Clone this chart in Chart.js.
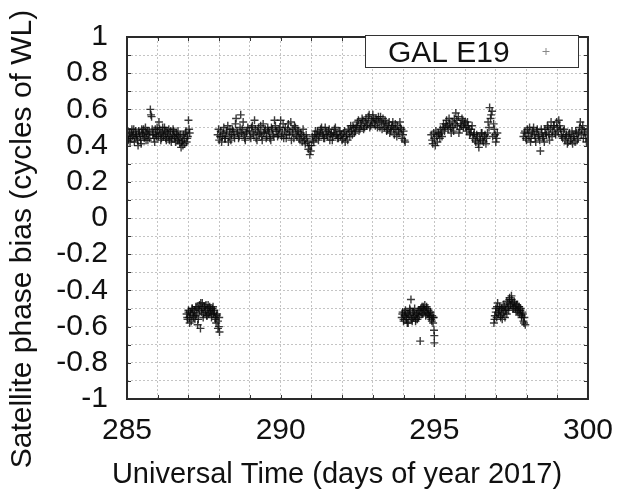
<!DOCTYPE html>
<html>
<head>
<meta charset="utf-8">
<script src="https://cdn.jsdelivr.net/npm/chart.js@4.4.1/dist/chart.umd.min.js"></script>
<style>
  body { margin: 0; background: #fff; }
  #wrap { width: 627px; height: 498px; }
</style>
</head>
<body>
<div id="wrap"><canvas id="biasChart" width="627" height="498"></canvas></div>
<script>
// GAL E19 wide-lane satellite phase bias

const arc1Day = [285.00,285.04,285.08,285.12,285.16,285.20,285.24,285.28,285.32,285.36,285.40,285.44,285.48,285.52,285.56,285.60,285.64,285.68,285.72,285.76,285.80,285.84,285.88,285.92,285.96,286.00,286.04,286.08,286.12,286.16,286.20,286.24,286.28,286.32,286.36,286.40,286.44,286.48,286.52,286.56,286.60,286.64,286.68,286.72,286.76,286.80,286.84,286.88,286.92,286.96,287.00,287.04];
const arc1Bias = [0.45,0.43,0.47,0.44,0.49,0.46,0.42,0.48,0.45,0.40,0.47,0.43,0.49,0.46,0.44,0.50,0.47,0.43,0.48,0.60,0.56,0.46,0.44,0.49,0.45,0.48,0.53,0.47,0.44,0.50,0.46,0.48,0.43,0.47,0.49,0.45,0.42,0.46,0.48,0.44,0.47,0.43,0.45,0.41,0.39,0.43,0.46,0.41,0.48,0.44,0.54,0.47];
const arc1bDay = [285.02,285.06,285.10,285.14,285.18,285.22,285.26,285.30,285.34,285.38,285.42,285.46,285.50,285.54,285.58,285.62,285.66,285.70,285.74,285.78,285.82,285.86,285.90,285.94,285.98,286.02,286.06,286.10,286.14,286.18,286.22,286.26,286.30,286.34,286.38,286.42,286.46,286.50,286.54,286.58,286.62,286.66,286.70,286.74,286.78,286.82,286.86,286.90,286.94,286.98,287.02];
const arc1bBias = [0.48,0.44,0.42,0.47,0.45,0.49,0.44,0.46,0.43,0.48,0.45,0.41,0.47,0.49,0.45,0.43,0.48,0.46,0.44,0.57,0.49,0.47,0.42,0.46,0.50,0.45,0.49,0.43,0.47,0.45,0.50,0.44,0.48,0.45,0.43,0.48,0.44,0.49,0.45,0.42,0.46,0.48,0.43,0.46,0.42,0.40,0.44,0.47,0.42,0.45,0.49];

const arc2Day = [287.95,288.00,288.05,288.10,288.15,288.20,288.25,288.30,288.35,288.40,288.45,288.50,288.55,288.60,288.65,288.70,288.75,288.80,288.85,288.90,
  289.00,289.05,289.10,289.15,289.20,289.25,289.30,289.35,289.40,289.45,289.50,289.55,289.60,289.65,289.70,289.75,289.80,289.85,289.90,289.95,
  290.00,290.05,290.10,290.15,290.20,290.25,290.30,290.35,290.40,290.45,290.50,290.55,290.60,290.65,290.70,290.75,290.80,290.85,290.90,290.95,
  291.00,291.05,291.10,291.15,291.20,291.25,291.30,291.35,291.40,291.45,291.50,291.55,291.60,291.65,291.70,291.75,291.80,291.85,291.90,291.95,
  292.00,292.05,292.10,292.15,292.20,292.25,292.30,292.35,292.40,292.45,292.50,292.55,292.60,292.65,292.70,292.75,292.80,292.85,292.90,292.95,
  293.00,293.05,293.10,293.15,293.20,293.25,293.30,293.35,293.40,293.45,293.50,293.55,293.60,293.65,293.70,293.75,293.80,293.85,293.90,293.95,
  294.00,294.05];
const arc2Bias = [0.46,0.43,0.48,0.45,0.50,0.44,0.47,0.42,0.49,0.46,0.48,0.44,0.55,0.47,0.45,0.57,0.49,0.46,0.43,0.48,
  0.45,0.50,0.47,0.54,0.44,0.48,0.46,0.51,0.43,0.47,0.49,0.45,0.48,0.44,0.50,0.46,0.54,0.48,0.45,0.49,
  0.54,0.47,0.44,0.50,0.46,0.52,0.48,0.43,0.49,0.51,0.46,0.48,0.44,0.47,0.42,0.45,0.41,0.44,0.38,0.35,
  0.40,0.43,0.46,0.44,0.48,0.45,0.49,0.47,0.44,0.50,0.46,0.48,0.43,0.47,0.45,0.49,0.46,0.44,0.48,0.45,
  0.43,0.47,0.42,0.46,0.49,0.45,0.48,0.51,0.47,0.50,0.53,0.48,0.52,0.55,0.49,0.53,0.51,0.56,0.50,0.54,
  0.57,0.52,0.55,0.50,0.53,0.56,0.49,0.52,0.54,0.48,0.51,0.47,0.50,0.53,0.46,0.49,0.51,0.47,0.50,0.44,
  0.48,0.42];
const arc2bDay = [287.98,288.03,288.08,288.13,288.18,288.23,288.28,288.33,288.38,288.43,288.48,288.53,288.58,288.63,288.68,288.73,288.78,288.83,288.88,288.93,
  288.98,289.03,289.08,289.13,289.18,289.23,289.28,289.33,289.38,289.43,289.48,289.53,289.58,289.63,289.68,289.73,289.78,289.83,289.88,289.93,
  289.98,290.03,290.08,290.13,290.18,290.23,290.28,290.33,290.38,290.43,290.48,290.53,290.58,290.63,290.68,290.73,290.78,290.83,290.88,290.93,
  290.98,291.03,291.08,291.13,291.18,291.23,291.28,291.33,291.38,291.43,291.48,291.53,291.58,291.63,291.68,291.73,291.78,291.83,291.88,291.93,
  291.98,292.03,292.08,292.13,292.18,292.23,292.28,292.33,292.38,292.43,292.48,292.53,292.58,292.63,292.68,292.73,292.78,292.83,292.88,292.93,
  292.98,293.03,293.08,293.13,293.18,293.23,293.28,293.33,293.38,293.43,293.48,293.53,293.58,293.63,293.68,293.73,293.78,293.83,293.88,293.93,
  293.98,294.03];
const arc2bBias = [0.49,0.45,0.42,0.47,0.44,0.48,0.51,0.45,0.43,0.49,0.46,0.52,0.48,0.44,0.50,0.47,0.53,0.44,0.47,0.50,
  0.48,0.44,0.51,0.46,0.49,0.43,0.50,0.47,0.45,0.52,0.48,0.44,0.50,0.47,0.43,0.49,0.45,0.51,0.48,0.46,
  0.50,0.45,0.52,0.48,0.44,0.49,0.46,0.53,0.47,0.44,0.50,0.45,0.48,0.43,0.46,0.49,0.43,0.46,0.42,0.40,
  0.37,0.45,0.42,0.48,0.46,0.43,0.47,0.50,0.46,0.44,0.48,0.45,0.49,0.46,0.43,0.47,0.50,0.46,0.44,0.48,
  0.46,0.44,0.48,0.45,0.43,0.48,0.51,0.46,0.50,0.48,0.51,0.54,0.49,0.51,0.54,0.50,0.55,0.52,0.57,0.51,
  0.53,0.55,0.51,0.54,0.56,0.50,0.53,0.55,0.50,0.52,0.49,0.53,0.48,0.51,0.49,0.52,0.45,0.48,0.53,0.49,
  0.46,0.43];

const arc3Day = [294.90,294.95,295.00,295.05,295.10,295.15,295.20,295.25,295.30,295.35,295.40,295.45,295.50,295.55,295.60,295.65,295.70,295.75,295.80,295.85,295.90,295.95,296.00,296.05,296.10,296.15,296.20,296.25,296.30,296.35,296.40,296.45,296.50,296.55,296.60,296.65,296.70,296.75,296.80,296.85,296.90,296.95,297.00,297.05];
const arc3Bias = [0.46,0.41,0.44,0.48,0.42,0.46,0.49,0.45,0.52,0.50,0.54,0.49,0.52,0.47,0.50,0.55,0.58,0.51,0.47,0.52,0.55,0.50,0.53,0.48,0.51,0.46,0.49,0.44,0.47,0.42,0.45,0.39,0.43,0.47,0.42,0.46,0.44,0.53,0.61,0.57,0.45,0.49,0.42,0.47];
const arc3bDay = [294.93,294.98,295.03,295.08,295.13,295.18,295.23,295.28,295.33,295.38,295.43,295.48,295.53,295.58,295.63,295.68,295.73,295.78,295.83,295.88,295.93,295.98,296.03,296.08,296.13,296.18,296.23,296.28,296.33,296.38,296.43,296.48,296.53,296.58,296.63,296.68,296.73,296.78,296.83,296.88,296.93,296.98,297.03];
const arc3bBias = [0.43,0.47,0.40,0.45,0.47,0.44,0.47,0.50,0.48,0.52,0.51,0.55,0.50,0.53,0.48,0.52,0.54,0.56,0.49,0.51,0.54,0.52,0.50,0.53,0.49,0.47,0.51,0.46,0.43,0.46,0.41,0.44,0.47,0.43,0.45,0.41,0.47,0.50,0.55,0.59,0.52,0.46,0.44];

const arc4Day = [297.90,297.95,298.00,298.05,298.10,298.15,298.20,298.25,298.30,298.35,298.40,298.45,298.50,298.55,298.60,298.65,298.70,298.75,298.80,298.85,298.90,298.95,299.00,299.05,299.10,299.15,299.20,299.25,299.30,299.35,299.40,299.45,299.50,299.55,299.60,299.65,299.70,299.75,299.80,299.85,299.90,299.95,300.00];
const arc4Bias = [0.45,0.48,0.43,0.47,0.50,0.44,0.48,0.46,0.42,0.49,0.45,0.37,0.47,0.44,0.49,0.46,0.50,0.43,0.53,0.48,0.51,0.46,0.50,0.54,0.49,0.45,0.48,0.43,0.46,0.42,0.47,0.44,0.41,0.45,0.48,0.43,0.47,0.53,0.49,0.44,0.47,0.42,0.46];
const arc4bDay = [297.93,297.98,298.03,298.08,298.13,298.18,298.23,298.28,298.33,298.38,298.43,298.48,298.53,298.58,298.63,298.68,298.73,298.78,298.83,298.88,298.93,298.98,299.03,299.08,299.13,299.18,299.23,299.28,299.33,299.38,299.43,299.48,299.53,299.58,299.63,299.68,299.73,299.78,299.83,299.88,299.93,299.98];
const arc4bBias = [0.47,0.44,0.49,0.45,0.42,0.47,0.50,0.44,0.48,0.46,0.43,0.49,0.45,0.42,0.47,0.51,0.46,0.49,0.45,0.51,0.47,0.53,0.48,0.51,0.46,0.44,0.49,0.45,0.41,0.46,0.43,0.48,0.45,0.42,0.47,0.44,0.50,0.46,0.51,0.48,0.44,0.49];

// arcs where the bias sits one cycle lower
const arc5Day = [286.94,286.97,287.00,287.03,287.06,287.09,287.12,287.15,287.18,287.21,287.24,287.27,287.30,287.33,287.36,287.39,287.42,287.45,287.48,287.51,287.54,287.57,287.60,287.63,287.66,287.69,287.72,287.75,287.78,287.81,287.84,287.87,287.90,287.93,287.96,287.99,288.00,288.01];
const arc5Bias = [-0.53,-0.56,-0.51,-0.55,-0.52,-0.57,-0.50,-0.54,-0.52,-0.56,-0.49,-0.53,-0.59,-0.50,-0.48,-0.61,-0.52,-0.47,-0.55,-0.49,-0.52,-0.48,-0.54,-0.50,-0.53,-0.49,-0.51,-0.55,-0.50,-0.53,-0.51,-0.55,-0.58,-0.53,-0.57,-0.60,-0.55,-0.63];
const arc5bDay = [286.96,287.00,287.04,287.08,287.12,287.16,287.20,287.24,287.28,287.32,287.36,287.40,287.44,287.48,287.52,287.56,287.60,287.64,287.68,287.72,287.76,287.80,287.84,287.88,287.92,287.96];
const arc5bBias = [-0.55,-0.52,-0.58,-0.53,-0.50,-0.55,-0.51,-0.54,-0.49,-0.56,-0.51,-0.47,-0.50,-0.53,-0.49,-0.51,-0.54,-0.48,-0.52,-0.50,-0.53,-0.49,-0.52,-0.56,-0.54,-0.61];

const arc6Day = [293.94,293.97,294.00,294.03,294.06,294.09,294.12,294.15,294.18,294.21,294.24,294.27,294.30,294.33,294.36,294.39,294.42,294.45,294.48,294.51,294.54,294.57,294.60,294.63,294.66,294.69,294.72,294.75,294.78,294.81,294.84,294.87,294.90,294.93,294.96,294.98,294.99,295.00,295.00];
const arc6Bias = [-0.55,-0.52,-0.57,-0.54,-0.51,-0.56,-0.53,-0.58,-0.54,-0.51,-0.45,-0.56,-0.52,-0.55,-0.50,-0.57,-0.53,-0.56,-0.51,-0.54,-0.68,-0.52,-0.49,-0.53,-0.50,-0.48,-0.52,-0.49,-0.53,-0.51,-0.54,-0.52,-0.56,-0.54,-0.58,-0.55,-0.62,-0.65,-0.69];
const arc6bDay = [293.96,294.00,294.04,294.08,294.12,294.16,294.20,294.24,294.28,294.32,294.36,294.40,294.44,294.48,294.52,294.56,294.60,294.64,294.68,294.72,294.76,294.80,294.84,294.88,294.92,294.96];
const arc6bBias = [-0.53,-0.56,-0.52,-0.55,-0.58,-0.53,-0.50,-0.55,-0.57,-0.52,-0.54,-0.56,-0.53,-0.55,-0.51,-0.50,-0.53,-0.49,-0.51,-0.54,-0.50,-0.53,-0.55,-0.52,-0.57,-0.55];

const arc7Day = [296.94,296.97,297.00,297.03,297.06,297.09,297.12,297.15,297.18,297.21,297.24,297.27,297.30,297.33,297.36,297.39,297.42,297.45,297.48,297.51,297.54,297.57,297.60,297.63,297.66,297.69,297.72,297.75,297.78,297.81,297.84,297.87,297.90,297.93,297.96];
const arc7Bias = [-0.58,-0.54,-0.50,-0.55,-0.47,-0.52,-0.49,-0.54,-0.50,-0.56,-0.48,-0.52,-0.55,-0.50,-0.53,-0.47,-0.51,-0.44,-0.48,-0.43,-0.47,-0.50,-0.46,-0.49,-0.52,-0.48,-0.51,-0.49,-0.53,-0.50,-0.54,-0.52,-0.57,-0.55,-0.59];
const arc7bDay = [296.96,297.00,297.04,297.08,297.12,297.16,297.20,297.24,297.28,297.32,297.36,297.40,297.44,297.48,297.52,297.56,297.60,297.64,297.68,297.72,297.76,297.80,297.84,297.88,297.92];
const arc7bBias = [-0.56,-0.52,-0.49,-0.53,-0.51,-0.55,-0.50,-0.53,-0.49,-0.51,-0.46,-0.49,-0.45,-0.48,-0.45,-0.50,-0.47,-0.50,-0.48,-0.52,-0.49,-0.51,-0.55,-0.53,-0.58];

const xTickLabels = ['285', '290', '295', '300'];
const yTickLabels = ['-1', '-0.8', '-0.6', '-0.4', '-0.2', '0', '0.2', '0.4', '0.6', '0.8', '1'];

const arcs = [
  [arc1Day, arc1Bias], [arc1bDay, arc1bBias], [arc2Day, arc2Bias], [arc2bDay, arc2bBias],
  [arc3Day, arc3Bias], [arc3bDay, arc3bBias], [arc4Day, arc4Bias], [arc4bDay, arc4bBias],
  [arc5Day, arc5Bias], [arc5bDay, arc5bBias], [arc6Day, arc6Bias], [arc6bDay, arc6bBias],
  [arc7Day, arc7Bias], [arc7bDay, arc7bBias]
];
const points = [];
arcs.forEach(([days, bias]) => {
  days.forEach((d, i) => points.push({ x: d, y: bias[i] }));
});

const FONT = '"Liberation Sans", Arial, Helvetica, sans-serif';

// gnuplot style frame, inward ticks, legend box and axis titles
const gnuplotLook = {
  id: 'gnuplotLook',
  afterDraw(chart) {
    const { ctx, chartArea: a, scales: { x, y } } = chart;
    ctx.save();

    ctx.strokeStyle = '#333';
    ctx.lineWidth = 1;
    ctx.beginPath();
    x.ticks.forEach(t => {
      const px = Math.round(x.getPixelForValue(t.value)) + 0.5;
      ctx.moveTo(px, a.bottom); ctx.lineTo(px, a.bottom - 4);
      ctx.moveTo(px, a.top); ctx.lineTo(px, a.top + 4);
    });
    y.ticks.forEach(t => {
      const py = Math.round(y.getPixelForValue(t.value)) + 0.5;
      ctx.moveTo(a.left, py); ctx.lineTo(a.left + 4, py);
      ctx.moveTo(a.right, py); ctx.lineTo(a.right - 4, py);
    });
    ctx.stroke();

    ctx.lineWidth = 2;
    ctx.strokeStyle = '#2a2a2a';
    ctx.strokeRect(a.left, a.top, a.right - a.left, a.bottom - a.top);

    // legend
    ctx.fillStyle = '#fff';
    ctx.fillRect(365, 35, 213, 32);
    ctx.lineWidth = 1;
    ctx.strokeStyle = '#333';
    ctx.strokeRect(365.5, 35.5, 213, 32);
    ctx.fillStyle = '#111';
    ctx.font = '30px ' + FONT;
    ctx.textAlign = 'left';
    ctx.textBaseline = 'alphabetic';
    ctx.fillText(chart.data.datasets[0].label, 388, 62);
    ctx.strokeStyle = '#888';
    ctx.beginPath();
    ctx.moveTo(542.5, 51.5); ctx.lineTo(549.5, 51.5);
    ctx.moveTo(546, 48); ctx.lineTo(546, 55);
    ctx.stroke();

    // axis titles
    ctx.fillStyle = '#111';
    ctx.textAlign = 'center';
    ctx.font = '29px ' + FONT;
    ctx.fillText('Universal Time (days of year 2017)', 337, 483);
    ctx.translate(31, 239);
    ctx.rotate(-Math.PI / 2);
    ctx.font = '30px ' + FONT;
    ctx.fillText('Satellite phase bias (cycles of WL)', 0, 0);
    ctx.restore();
  }
};

new Chart(document.getElementById('biasChart'), {
  type: 'scatter',
  data: {
    datasets: [{
      label: 'GAL E19',
      data: points,
      pointStyle: 'cross',
      pointRadius: 4,
      pointBorderWidth: 1.4,
      borderColor: 'rgba(10,10,10,0.8)',
      backgroundColor: 'rgba(10,10,10,0.8)'
    }]
  },
  options: {
    responsive: false,
    animation: false,
    events: [],
    layout: { padding: { top: 28, right: 30, left: 0, bottom: 0 } },
    plugins: { legend: { display: false }, tooltip: { enabled: false } },
    scales: {
      x: {
        type: 'linear',
        min: 285,
        max: 300,
        afterFit: s => { s.height = 99; },
        ticks: {
          stepSize: 1,
          autoSkip: false,
          maxRotation: 0,
          padding: 14,
          color: '#111',
          font: { family: FONT, size: 30 },
          callback: v => xTickLabels.includes(String(v)) ? String(v) : ''
        },
        grid: { color: '#c4c4c4', lineWidth: 1, drawTicks: false },
        border: { display: false, dash: [2, 2] }
      },
      y: {
        min: -1,
        max: 1,
        afterFit: s => { s.width = 127; },
        ticks: {
          stepSize: 0.1,
          autoSkip: false,
          padding: 19,
          color: '#111',
          font: { family: FONT, size: 30 },
          callback: v => {
            const s = String(Number(v.toFixed(1)) || 0);
            return yTickLabels.includes(s) ? s : '';
          }
        },
        grid: { color: '#c4c4c4', lineWidth: 1, drawTicks: false },
        border: { display: false, dash: [2, 2] }
      }
    }
  },
  plugins: [gnuplotLook]
});
</script>
</body>
</html>
